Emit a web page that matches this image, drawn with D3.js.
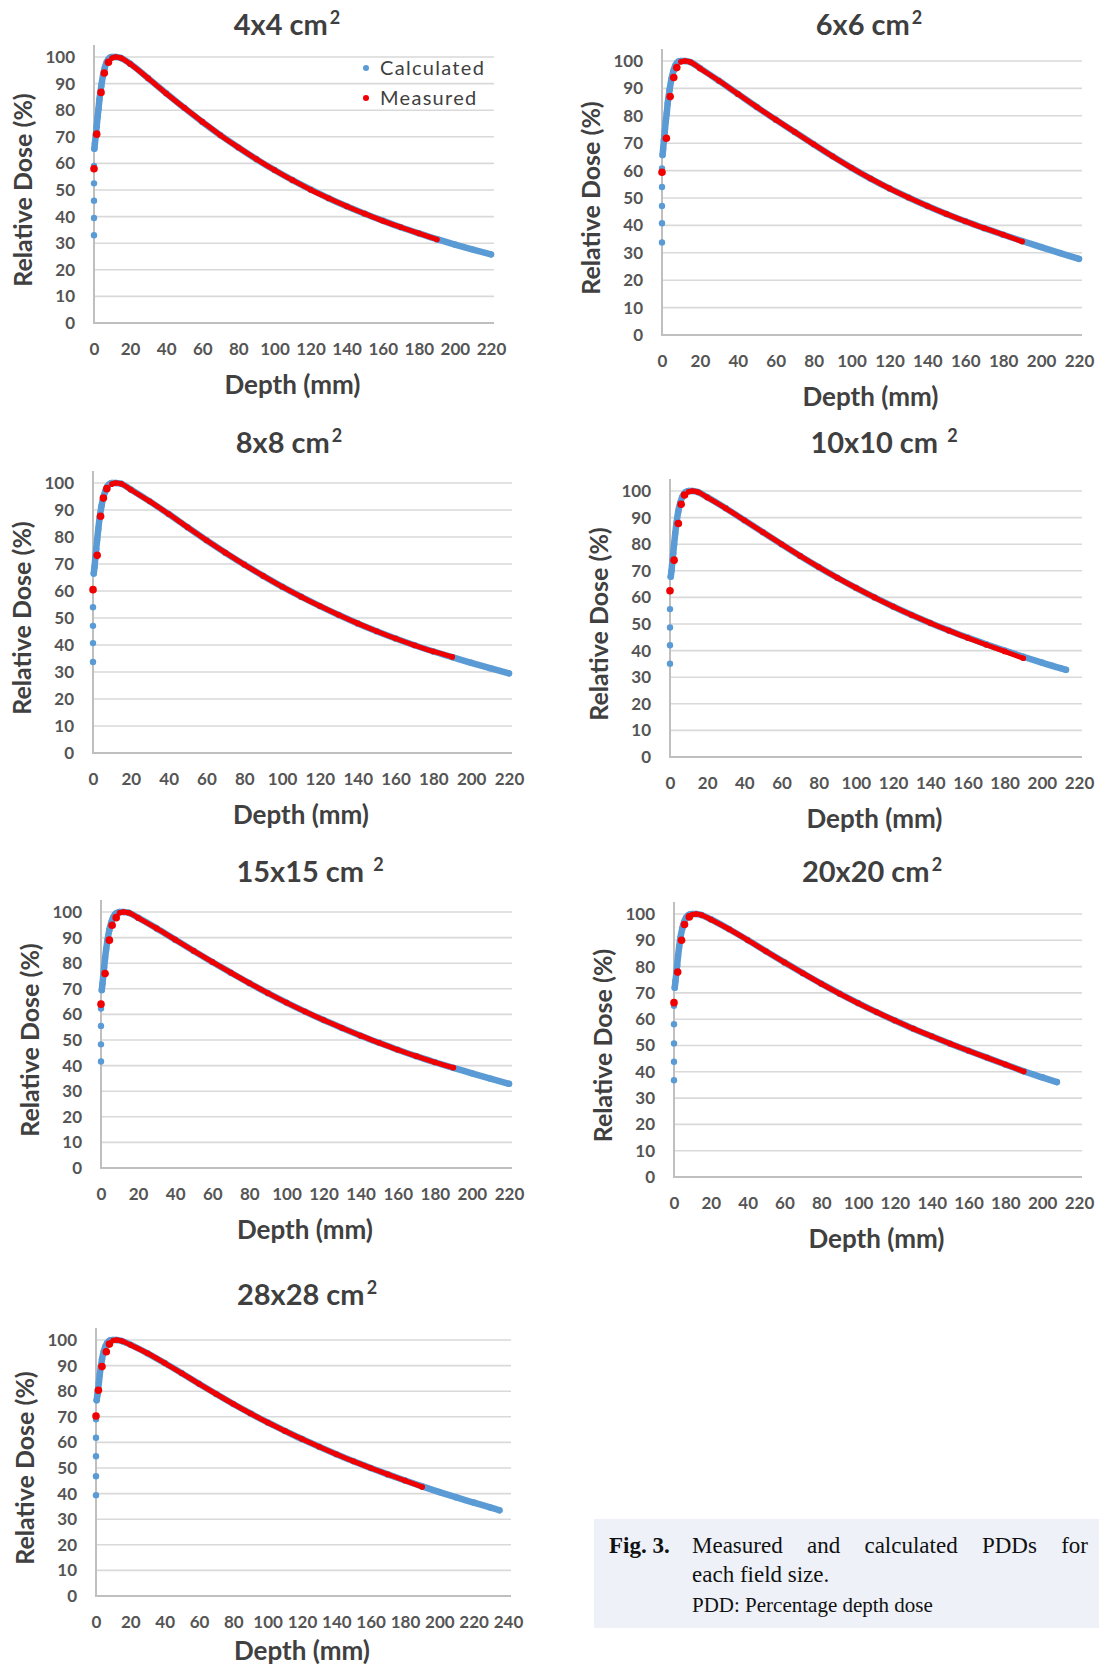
<!DOCTYPE html>
<html>
<head>
<meta charset="utf-8">
<script src="https://cdn.jsdelivr.net/npm/d3@7"></script>
<style>
  body { margin: 0; background: #fff; }
  svg text { font-family: Lato, "Open Sans", sans-serif; }
  svg text.serif { font-family: "Liberation Serif", "DejaVu Serif", serif; }
</style>
</head>
<body>
<svg id="fig" width="1106" height="1669"></svg>
<script>
// ---- values ----
var fields = ["4x4", "6x6", "8x8", "10x10", "15x15", "20x20", "28x28"];
var xMaxes = [220, 220, 220, 220, 220, 220, 240];
var yTicks = [0, 10, 20, 30, 40, 50, 60, 70, 80, 90, 100];
var xTicks220 = [0, 20, 40, 60, 80, 100, 120, 140, 160, 180, 200, 220];
var xTicks240 = [0, 20, 40, 60, 80, 100, 120, 140, 160, 180, 200, 220, 240];

// depths (mm)
var buildA = [0.2, 0.5, 1, 1.5, 2, 2.5, 3, 4, 5, 6, 7, 8, 9, 10];
var buildB = [0.3, 0.6, 1, 1.5, 2, 2.5, 3, 4, 5, 6, 7, 8, 9, 10];
var buildC = [0.4, 0.8, 1.2, 1.7, 2.2, 2.8, 3.5, 4.5, 5.5, 6.5, 7.5, 8.5, 10];
var fall200 = [12, 15, 20, 30, 40, 50, 60, 70, 80, 90, 100, 110, 120, 130, 140, 150, 160, 170, 180, 190, 200];
var measDepth = [10, 12, 15, 20, 30, 40, 50, 60, 70, 80, 90, 100, 110, 120, 130, 140, 150, 160, 170, 180, 190];

// 4x4
var calcSurf4 = [33, 39.5, 46, 52.5, 59];
var calcDepth4 = buildA.concat(fall200, [210, 220]);
var calcDose4 = [65.5, 67.5, 70.5, 74, 77.5, 80.5, 84, 89, 93, 96, 98, 99.2, 99.8, 100,
  100, 99.6, 97.5, 92, 86.4, 80.9, 75.6, 70.6, 66, 61.6, 57.5, 53.7, 50.2, 46.9, 43.9, 41.1, 38.5, 36, 33.7, 31.5, 29.5, 27.6, 25.8];
var measBuildD4 = [0, 1.5, 3.9, 5.7, 8];
var measBuildV4 = [58, 71, 86.7, 94, 98];
var measDose4 = [99.6, 100, 99.6, 97.4, 92, 86.3, 80.9, 75.7, 70.6, 66, 61.6, 57.5, 53.7, 50.1, 46.9, 43.9, 41.1, 38.4, 36, 33.7, 31.4];

// 6x6
var calcSurf6 = [33.8, 40.8, 47.1, 54, 60.8];
var calcDepth6 = buildB.concat(fall200, [210, 220]);
var calcDose6 = [65.7, 68, 71, 74.5, 78, 81, 84.5, 89.5, 93.5, 96.3, 98.3, 99.4, 99.9, 100,
  100, 99.6, 97.4, 92.8, 88, 83.2, 78.6, 74.1, 69.6, 65.2, 61, 57.1, 53.5, 50.2, 47.1, 44.2, 41.5, 39, 36.6, 34.3, 32.1, 29.9, 27.8];
var measBuildD6 = [0, 2.3, 4.3, 6.2, 7.8];
var measBuildV6 = [59.4, 71.8, 87, 94, 97.6];
var measDose6 = [99.7, 100, 99.6, 97.3, 92.8, 88, 83.2, 78.6, 74.1, 69.6, 65.2, 61, 57.1, 53.5, 50.2, 47.1, 44.2, 41.5, 39, 36.6, 34.1];

// 8x8
var calcSurf8 = [33.7, 40.7, 47.1, 54, 60.5];
var calcDepth8 = buildC.concat(fall200, [210, 220]);
var calcDose8 = [66.5, 69, 72, 75.5, 79, 83, 87, 91.5, 94.7, 97, 98.6, 99.5, 100,
  100, 99.7, 97.6, 93.2, 88.5, 83.6, 78.8, 74.2, 69.8, 65.6, 61.6, 57.9, 54.4, 51.1, 48, 45.1, 42.4, 39.9, 37.6, 35.5, 33.4, 31.4, 29.5];
var measBuildD8 = [0, 2.2, 4, 5.5, 7.3];
var measBuildV8 = [60.5, 73.2, 87.7, 94.4, 97.9];
var measDose8 = [99.6, 100, 99.7, 97.5, 93.2, 88.5, 83.6, 78.8, 74.2, 69.8, 65.6, 61.6, 57.9, 54.4, 51.1, 48, 45.1, 42.4, 39.9, 37.6, 35.6];

// 10x10
var calcSurf10 = [35.1, 42, 48.7, 55.6, 62.4];
var calcDepth10 = buildC.concat(fall200, [210, 213]);
var calcDose10 = [67.8, 70, 73, 76.5, 80, 84, 88, 92.5, 95.5, 97.6, 98.9, 99.6, 100,
  100, 99.6, 97.7, 93.5, 89, 84.5, 80, 75.6, 71.4, 67.4, 63.6, 60, 56.6, 53.4, 50.4, 47.6, 44.9, 42.4, 40, 37.7, 35.5, 33.4, 32.8];
var measBuildD10 = [0, 2.2, 4.5, 6, 7.8];
var measBuildV10 = [62.5, 74, 87.8, 95, 98.5];
var measDose10 = [99.7, 100, 99.6, 97.6, 93.5, 89, 84.5, 80, 75.6, 71.4, 67.4, 63.6, 60, 56.6, 53.4, 50.4, 47.5, 44.8, 42.2, 39.7, 37.1];

// 15x15
var calcSurf15 = [41.6, 48.3, 55.5, 62.3];
var calcDepth15 = buildC.concat(fall200, [210, 220]);
var calcDose15 = [69.5, 72, 75, 78.5, 82, 85.5, 89, 93, 95.8, 97.8, 99, 99.6, 100,
  100, 99.7, 97.8, 93.6, 89.2, 84.8, 80.5, 76.3, 72.2, 68.3, 64.6, 61.1, 57.8, 54.7, 51.7, 48.9, 46.2, 43.7, 41.3, 39.1, 37, 34.9, 32.9];
var measBuildD15 = [0, 2.2, 4.5, 6, 8.2];
var measBuildV15 = [64, 76, 89, 94.8, 97.8];
var measDose15 = [99.7, 100, 99.7, 97.7, 93.6, 89.2, 84.8, 80.5, 76.3, 72.2, 68.3, 64.6, 61.1, 57.8, 54.7, 51.7, 48.9, 46.2, 43.7, 41.3, 39.2];

// 20x20
var calcSurf20 = [36.8, 43.8, 50.8, 58.1, 65.1];
var calcDepth20 = buildC.concat(fall200, [208]);
var calcDose20 = [72, 74.5, 77, 80.5, 84, 87.5, 91, 94.5, 97, 98.5, 99.4, 99.8, 100,
  100, 99.6, 98, 94.2, 90.1, 85.8, 81.6, 77.5, 73.5, 69.7, 66.1, 62.7, 59.5, 56.4, 53.5, 50.7, 48, 45.4, 42.8, 40.2, 37.9, 36.1];
var measBuildD20 = [0, 2, 4.1, 5.7, 8.3];
var measBuildV20 = [66.3, 77.9, 90, 96, 98.9];
var measDose20 = [99.8, 100, 99.6, 97.9, 94.2, 90.1, 85.8, 81.6, 77.5, 73.5, 69.7, 66.1, 62.7, 59.5, 56.4, 53.5, 50.7, 48, 45.4, 42.8, 40.1];

// 28x28
var calcSurf28 = [39.4, 46.8, 54.6, 61.8, 69];
var calcDepth28 = buildC.concat(fall200, [210, 220, 230, 235]);
var calcDose28 = [76.5, 78.5, 80.5, 83.5, 86.5, 89.5, 92.5, 95.5, 97.5, 98.8, 99.5, 99.9, 100,
  100, 99.6, 98.2, 94.8, 91, 87, 82.9, 78.9, 75, 71.3, 67.8, 64.5, 61.3, 58.3, 55.4, 52.6, 50, 47.5, 45.1, 42.8, 40.6, 38.5, 36.5, 34.5, 33.5];
var measBuildD28 = [0, 1.4, 3.5, 6, 7.8];
var measBuildV28 = [70.3, 80.4, 89.6, 95.4, 98.4];
var measDose28 = [99.8, 100, 99.6, 98.1, 94.8, 91, 87, 82.9, 78.9, 75, 71.3, 67.8, 64.5, 61.3, 58.3, 55.4, 52.6, 50, 47.5, 45.1, 42.6];

var calcSurf = [calcSurf4, calcSurf6, calcSurf8, calcSurf10, calcSurf15, calcSurf20, calcSurf28];
var calcDepth = [calcDepth4, calcDepth6, calcDepth8, calcDepth10, calcDepth15, calcDepth20, calcDepth28];
var calcDose = [calcDose4, calcDose6, calcDose8, calcDose10, calcDose15, calcDose20, calcDose28];
var measBuildD = [measBuildD4, measBuildD6, measBuildD8, measBuildD10, measBuildD15, measBuildD20, measBuildD28];
var measBuildV = [measBuildV4, measBuildV6, measBuildV8, measBuildV10, measBuildV15, measBuildV20, measBuildV28];
var measDose = [measDose4, measDose6, measDose8, measDose10, measDose15, measDose20, measDose28];

// ---- layout (pixels) ----
var frames = [
  {l: 94,  r: 491,  t: 57,   b: 323,  tx: 287, ty: 35,   sup: 2, dl: 71},
  {l: 662, r: 1079, t: 61,   b: 335,  tx: 869, ty: 35,   sup: 2, dl: 71},
  {l: 93,  r: 509,  t: 483,  b: 753,  tx: 289, ty: 453,  sup: 2, dl: 71},
  {l: 670, r: 1079, t: 491,  b: 757,  tx: 884, ty: 453,  sup: 9, dl: 71},
  {l: 101, r: 509,  t: 912,  b: 1168, tx: 310, ty: 882,  sup: 9, dl: 71},
  {l: 674, r: 1079, t: 914,  b: 1177, tx: 872, ty: 882,  sup: 2, dl: 71},
  {l: 96,  r: 508,  t: 1340, b: 1596, tx: 307, ty: 1305, sup: 2, dl: 64}
];

var blue = "#5b9bd5", red = "#f00000", grey = "#555555";
var svg = d3.select("#fig");

function zip(a, b) {
  return a.map(function(d, i) { return [d, b[i]]; });
}

function drawPanel(i) {
  var f = frames[i];
  var x = d3.scaleLinear().domain([0, xMaxes[i]]).range([f.l, f.r]);
  var y = d3.scaleLinear().domain([0, 100]).range([f.b, f.t]);
  var g = svg.append("g");

  // title
  var title = g.append("text")
      .attr("x", f.tx).attr("y", f.ty)
      .attr("text-anchor", "middle")
      .attr("font-size", 29).attr("font-weight", "bold")
      .attr("fill", "#3f3f3f")
      .text(fields[i] + " cm");
  title.append("tspan")
      .attr("dx", f.sup).attr("dy", -11)
      .attr("font-size", 18)
      .text("2");

  // gridlines
  g.append("g").selectAll("line")
      .data(yTicks.slice(1))
      .enter().append("line")
      .attr("x1", f.l).attr("x2", f.r + 3)
      .attr("y1", function(d) { return y(d); })
      .attr("y2", function(d) { return y(d); })
      .attr("stroke", "#d9d9d9").attr("stroke-width", 1.6);

  // axes
  var ya = g.append("g")
      .attr("transform", "translate(" + f.l + ",0)")
      .call(d3.axisLeft(y).tickValues(yTicks).tickSize(0).tickPadding(19));
  ya.select(".domain").remove();
  ya.attr("font-family", null).attr("font-size", 17).attr("font-weight", "bold");
  ya.selectAll("text").attr("fill", grey);

  var xa = g.append("g")
      .attr("transform", "translate(0," + f.b + ")")
      .call(d3.axisBottom(x).tickValues(xMaxes[i] == 240 ? xTicks240 : xTicks220).tickSize(0).tickPadding(20));
  xa.select(".domain").remove();
  xa.attr("font-family", null).attr("font-size", 17).attr("font-weight", "bold");
  xa.selectAll("text").attr("fill", grey);

  g.append("line")
      .attr("x1", f.l).attr("x2", f.l)
      .attr("y1", f.t - 12).attr("y2", f.b)
      .attr("stroke", "#bfbfbf").attr("stroke-width", 2);
  g.append("line")
      .attr("x1", f.l - 1).attr("x2", f.r + 3)
      .attr("y1", f.b).attr("y2", f.b)
      .attr("stroke", "#bfbfbf").attr("stroke-width", 2);

  // axis titles
  g.append("text")
      .attr("transform", "translate(" + (f.l - 62) + "," + ((f.t + f.b) / 2) + ") rotate(-90)")
      .attr("text-anchor", "middle")
      .attr("font-size", 25).attr("font-weight", "bold")
      .attr("fill", "#404040")
      .text("Relative Dose (%)");
  g.append("text")
      .attr("x", (f.l + f.r) / 2).attr("y", f.b + f.dl)
      .attr("text-anchor", "middle")
      .attr("font-size", 26).attr("font-weight", "bold")
      .attr("fill", "#404040")
      .text("Depth (mm)");

  var line = d3.line()
      .x(function(d) { return x(d[0]); })
      .y(function(d) { return y(d[1]); })
      .curve(d3.curveMonotoneX);

  // calculated
  var calcPts = zip(calcDepth[i], calcDose[i]);
  g.append("path").datum(calcPts)
      .attr("d", line)
      .attr("fill", "none").attr("stroke", blue)
      .attr("stroke-width", 6.5).attr("stroke-linecap", "round");
  g.append("g").selectAll("circle")
      .data(calcPts.concat(calcSurf[i].map(function(v) { return [0, v]; })))
      .enter().append("circle")
      .attr("cx", function(d) { return x(d[0]); })
      .attr("cy", function(d) { return y(d[1]); })
      .attr("r", 3.2).attr("fill", blue);

  // measured
  var measPts = zip(measDepth, measDose[i]);
  g.append("path").datum(measPts)
      .attr("d", line)
      .attr("fill", "none").attr("stroke", red)
      .attr("stroke-width", 5).attr("stroke-linecap", "round");
  g.append("g").selectAll("circle")
      .data(measPts)
      .enter().append("circle")
      .attr("cx", function(d) { return x(d[0]); })
      .attr("cy", function(d) { return y(d[1]); })
      .attr("r", 2.8).attr("fill", red);
  g.append("g").selectAll("circle")
      .data(zip(measBuildD[i], measBuildV[i]))
      .enter().append("circle")
      .attr("cx", function(d) { return x(d[0]); })
      .attr("cy", function(d) { return y(d[1]); })
      .attr("r", 3.8).attr("fill", red);

  if (i == 0) {
    var leg = g.append("g");
    [["Calculated", blue], ["Measured", red]].forEach(function(s, k) {
      leg.append("circle").attr("cx", 366).attr("cy", 68 + k * 30).attr("r", 3).attr("fill", s[1]);
      leg.append("text").attr("x", 380).attr("y", 75 + k * 30)
          .attr("font-size", 20).attr("letter-spacing", 1.3)
          .attr("fill", "#404040").text(s[0]);
    });
  }
}

for (var i = 0; i < fields.length; i++) drawPanel(i);

// caption
var cap = svg.append("g");
cap.append("rect").attr("x", 594).attr("y", 1519).attr("width", 505).attr("height", 109).attr("fill", "#eef1f8");
cap.append("text").attr("class", "serif").attr("x", 609).attr("y", 1553)
    .attr("font-size", 23).attr("font-weight", "bold").attr("fill", "#111").text("Fig. 3.");
var words = ["Measured", "and", "calculated", "PDDs", "for"];
var wt = words.map(function(w) {
  return cap.append("text").attr("class", "serif").attr("y", 1553)
      .attr("font-size", 23).attr("fill", "#111").text(w);
});
var total = d3.sum(wt, function(t) { return t.node().getComputedTextLength(); });
var gap = (1088 - 692 - total) / (words.length - 1), cx = 692;
wt.forEach(function(t) { t.attr("x", cx); cx += t.node().getComputedTextLength() + gap; });
cap.append("text").attr("class", "serif").attr("x", 692).attr("y", 1582)
    .attr("font-size", 23).attr("fill", "#111").text("each field size.");
cap.append("text").attr("class", "serif").attr("x", 692).attr("y", 1612)
    .attr("font-size", 21).attr("fill", "#111").text("PDD: Percentage depth dose");
</script>
</body>
</html>
